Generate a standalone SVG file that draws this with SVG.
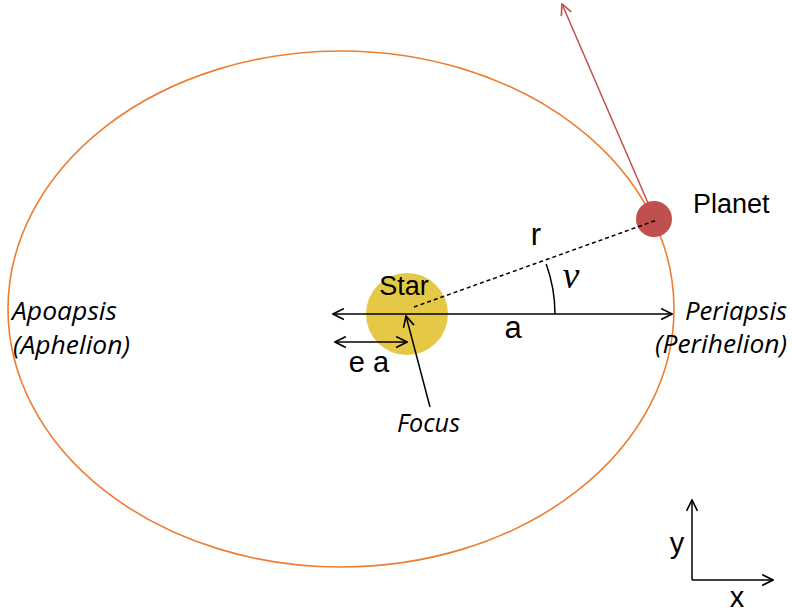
<svg xmlns="http://www.w3.org/2000/svg" width="792" height="615" viewBox="0 0 792 615">
<style>
.lbl{font-family:"Liberation Sans",Arial,sans-serif;fill:#000}
.ital{font-family:"Open Sans",Lato,sans-serif;font-style:italic;fill:#000;font-size:25px}
.blk{stroke:#000;stroke-width:1.5;fill:none}
</style>
<defs>
<marker id="ah" viewBox="0 0 12 12" refX="11" refY="6" markerWidth="13" markerHeight="13" markerUnits="userSpaceOnUse" orient="auto-start-reverse">
<path d="M1,1 L11,6 L1,11" fill="none" stroke="#000" stroke-width="1.5"/>
</marker>
<marker id="ahr" viewBox="0 0 12 12" refX="11" refY="6" markerWidth="13" markerHeight="13" markerUnits="userSpaceOnUse" orient="auto">
<path d="M1,1 L11,6 L1,11" fill="none" stroke="#C0504D" stroke-width="1.5"/>
</marker>
</defs>
<rect width="792" height="615" fill="#fff"/>
<g id="orbit">
<ellipse cx="341" cy="309" rx="333" ry="258" fill="none" stroke="#ED7D31" stroke-width="1.6"/>
</g>
<g id="star">
<circle cx="407" cy="314" r="41" fill="#E6C847"/>
<text class="lbl" x="404" y="295" font-size="27" text-anchor="middle">Star</text>
</g>
<g id="planet">
<circle cx="654" cy="219" r="18" fill="#C0504D"/>
<text class="lbl" x="693" y="213" font-size="27">Planet</text>
</g>
<g id="connectors">
<line class="blk" x1="333" y1="314" x2="672" y2="314" marker-start="url(#ah)" marker-end="url(#ah)"/>
<line class="blk" x1="335" y1="342" x2="407" y2="342" marker-start="url(#ah)" marker-end="url(#ah)"/>
<line class="blk" x1="430" y1="407" x2="406" y2="316" marker-end="url(#ah)"/>
<line x1="414" y1="307" x2="657" y2="220" stroke="#000" stroke-width="1.5" stroke-dasharray="4,3"/>
<line x1="648" y1="203" x2="562" y2="4" stroke="#C0504D" stroke-width="1.5" marker-end="url(#ahr)"/>
<path class="blk" d="M555,314 A148,148 0 0 0 546.2,263.9"/>
<line class="blk" x1="692" y1="580" x2="692" y2="500" marker-end="url(#ah)"/>
<line class="blk" x1="692" y1="580" x2="773" y2="580" marker-end="url(#ah)"/>
</g>
<g id="labels">
<text class="lbl" x="513" y="338" font-size="31" text-anchor="middle">a</text>
<text class="lbl" x="369" y="372" font-size="29" text-anchor="middle">e a</text>
<text class="lbl" x="536" y="245" font-size="31" text-anchor="middle">r</text>
<text x="571" y="288" font-size="38" font-style="italic" font-family="'Liberation Serif',serif" text-anchor="middle">ν</text>
<text class="ital" x="397" y="432" textLength="63" lengthAdjust="spacingAndGlyphs">Focus</text>
<text class="ital" x="685" y="320" textLength="102" lengthAdjust="spacingAndGlyphs">Periapsis</text>
<text class="ital" x="655" y="353" textLength="132" lengthAdjust="spacingAndGlyphs">(Perihelion)</text>
<text class="ital" x="12" y="320" textLength="105" lengthAdjust="spacingAndGlyphs">Apoapsis</text>
<text class="ital" x="13" y="354" textLength="117" lengthAdjust="spacingAndGlyphs">(Aphelion)</text>
<text class="lbl" x="677" y="553" font-size="29" text-anchor="middle">y</text>
<text class="lbl" x="737" y="607" font-size="29" text-anchor="middle">x</text>
</g>
</svg>
